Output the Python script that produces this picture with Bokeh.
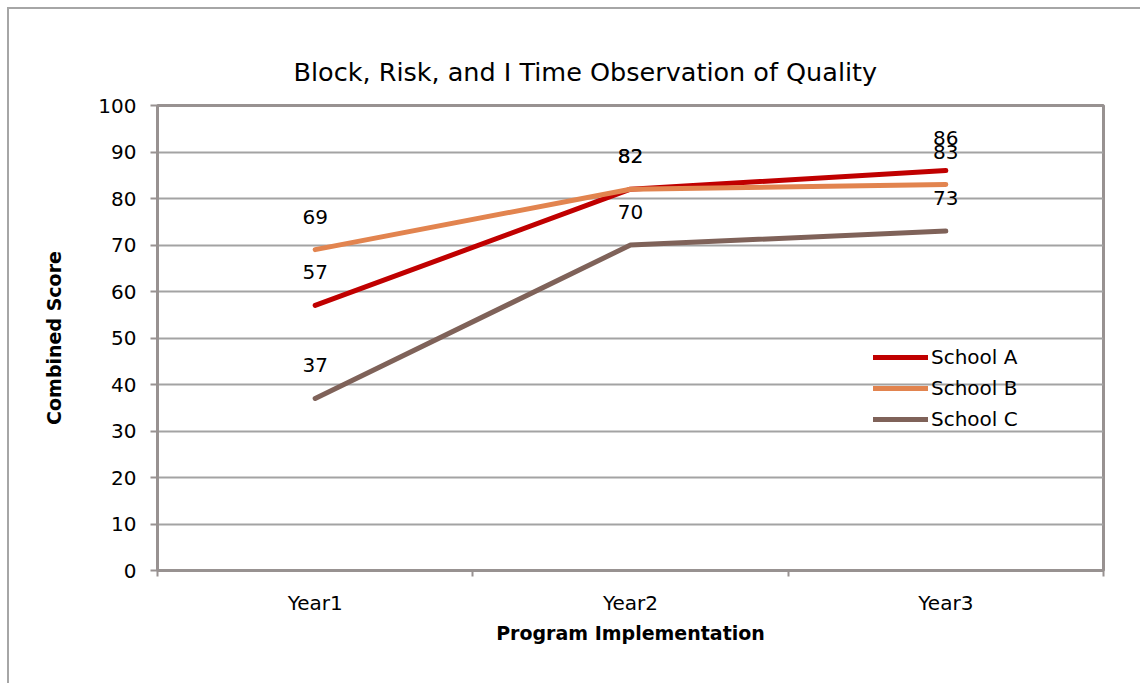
from bokeh.plotting import figure
from bokeh.layouts import column
from bokeh.models import ColumnDataSource, LabelSet, Legend, LegendItem, FixedTicker, Range1d
from bokeh.core.properties import value
from bokeh.embed import file_html
from bokeh.resources import INLINE

years = ["Year1", "Year2", "Year3"]
school_a = [57, 82, 86]
school_b = [69, 82, 83]
school_c = [37, 70, 73]
series_names = ["School A", "School B", "School C"]
series_colors = ["#C00000", "#E2844F", "#7F6259"]
y_ticks = [0, 10, 20, 30, 40, 50, 60, 70, 80, 90, 100]

FONT = "DejaVu Sans"
GRAY = "#989291"

xs = [i + 0.5 for i in range(len(years))]

p = figure(width=1131, height=674, output_backend="svg", toolbar_location=None,
           x_range=Range1d(0, len(years)), y_range=Range1d(0, 100),
           min_border_left=148, min_border_right=37, min_border_top=96, min_border_bottom=113,
           margin=0)

p.title.text = "Block, Risk, and I Time Observation of Quality"
p.title.text_font = FONT
p.title.text_font_size = "25.5px"
p.title.text_font_style = "normal"
p.title.text_color = "#000000"
p.title.align = "left"
p.title.offset = 136
p.title.standoff = 38

p.outline_line_color = GRAY
p.outline_line_width = 3
p.xgrid.visible = False
p.ygrid.grid_line_color = "#a3a3a3"
p.ygrid.grid_line_width = 2

# x axis
p.xaxis.ticker = FixedTicker(ticks=xs, minor_ticks=list(range(len(years) + 1)))
p.xaxis.major_label_overrides = {x: y for x, y in zip(xs, years)}
p.xaxis.major_tick_out = 0
p.xaxis.major_tick_in = 0
p.xaxis.minor_tick_out = 6
p.xaxis.minor_tick_in = 0
p.xaxis.minor_tick_line_color = GRAY
p.xaxis.minor_tick_line_width = 2
p.xaxis.major_label_standoff = 14
p.xaxis.axis_label = "Program Implementation"
p.xaxis.axis_label_standoff = 4

# y axis
p.yaxis.ticker = FixedTicker(ticks=y_ticks, minor_ticks=[])
p.yaxis.major_tick_out = 7
p.yaxis.major_tick_in = 0
p.yaxis.major_tick_line_color = GRAY
p.yaxis.major_tick_line_width = 2
p.yaxis.major_label_standoff = 14
p.yaxis.axis_label = "Combined Score"
p.yaxis.axis_label_standoff = 30

for ax in (p.xaxis[0], p.yaxis[0]):
    ax.axis_line_color = GRAY
    ax.axis_line_width = 3
    ax.major_label_text_font = FONT
    ax.major_label_text_font_size = "20px"
    ax.major_label_text_color = "#000000"
    ax.axis_label_text_font = FONT
    ax.axis_label_text_font_size = "19px"
    ax.axis_label_text_font_style = "bold"
    ax.axis_label_text_color = "#000000"

items = []
for name, vals, col in zip(series_names, [school_a, school_b, school_c], series_colors):
    src = ColumnDataSource(dict(x=xs, y=vals, t=[str(v) for v in vals]))
    r = p.line("x", "y", source=src, line_color=col, line_width=5, line_cap="round", line_join="round")
    items.append(LegendItem(label=name, renderers=[r]))
    p.add_layout(LabelSet(x="x", y="y", text="t", source=src, text_align="center",
                          text_baseline="middle", y_offset=33, text_font=value(FONT),
                          text_font_size=value("20px"), text_color="#000000"))

legend = Legend(items=items, location=(716, 139), orientation="vertical",
                glyph_width=55, glyph_height=20, label_height=20, spacing=7,
                label_standoff=3, padding=0, margin=0,
                label_text_font=FONT, label_text_font_size="20px", label_text_color="#000000",
                background_fill_alpha=0, border_line_color=None)
p.add_layout(legend)

layout = column(p, margin=(7, 0, 0, 7), spacing=0,
                styles={"border-top": "2px solid #a6a6a6", "border-left": "2px solid #a6a6a6"})

open("out.html", "w").write(file_html(layout, INLINE))
